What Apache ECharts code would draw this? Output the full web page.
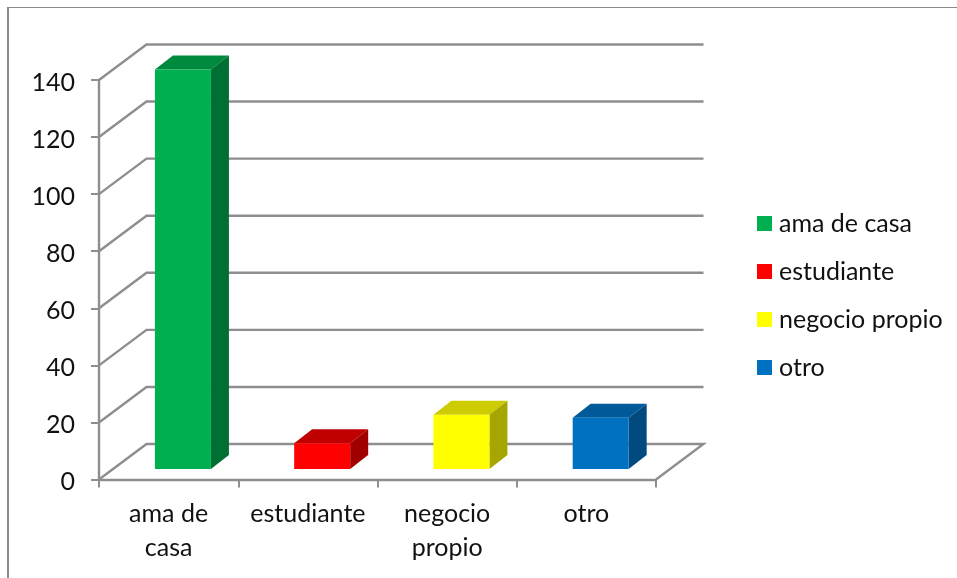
<!DOCTYPE html>
<html><head><meta charset="utf-8">
<style>html,body{margin:0;padding:0;background:#fff}#c{width:957px;height:578px}</style>
<script src="https://cdn.jsdelivr.net/npm/echarts@6/dist/echarts.min.js"></script>
</head><body><div id="c"></div>
<script>
const categories = ['ama de\ncasa', 'estudiante', 'negocio\npropio', 'otro'];
const seriesNames = ['ama de casa', 'estudiante', 'negocio propio', 'otro'];
const values = [140, 9, 19, 18];
const yTicks = [0, 20, 40, 60, 80, 100, 120, 140];
const frontColors = ['#00B050', '#FF0000', '#FFFF00', '#0070C0'];
const topColors = ['#008A3E', '#C00000', '#CCCC00', '#005A9A'];
const sideColors = ['#006F33', '#A00000', '#A6A600', '#004A80'];

const FONT = 'Lato';
const FONT_SIZE = 25;
const GRAY = '#8E8E8E';
const DEPTH = [47.5, -35.5];
const BAR_W = 56, BAR_DX = 14.3, BAR_DY = -10.5, SIDE = [18, -14];

const chart = echarts.init(document.getElementById('c'), null, {renderer: 'canvas'});

function renderWall(params, api) {
  const v = api.value(1);
  const cs = params.coordSys;
  const y = api.coord([0, v])[1];
  const x0 = cs.x, x1 = cs.x + cs.width;
  const pts = [[x0, y], [x0 + DEPTH[0], y + DEPTH[1]], [x1 + DEPTH[0], y + DEPTH[1]]];
  if (v === 0) pts.push([x1, y]);
  return {
    type: 'polyline',
    shape: {points: pts},
    style: {fill: null, stroke: GRAY, lineWidth: 2.4},
    silent: true
  };
}

function makeBar(idx) {
  return function (params, api) {
    const top = api.coord([api.value(0), api.value(1)]);
    const base = api.coord([api.value(0), 0]);
    const l = top[0] + BAR_DX - BAR_W / 2, r = l + BAR_W;
    const t = top[1] + BAR_DY, b = base[1] + BAR_DY;
    const sx = SIDE[0], sy = SIDE[1];
    return {
      type: 'group',
      children: [
        {type: 'polygon', shape: {points: [[l, t], [r, t], [r + sx, t + sy], [l + sx, t + sy]]},
          style: {fill: topColors[idx]}},
        {type: 'polygon', shape: {points: [[r, t], [r + sx, t + sy], [r + sx, b + sy], [r, b]]},
          style: {fill: sideColors[idx]}},
        {type: 'rect', shape: {x: l, y: t, width: BAR_W, height: b - t},
          style: {fill: frontColors[idx]}}
      ]
    };
  };
}

const series = [{
  type: 'custom',
  name: 'wall',
  silent: true,
  clip: false,
  z: 1,
  encode: {x: 0, y: 1},
  renderItem: renderWall,
  data: yTicks.map(v => [0, v])
}];
seriesNames.forEach((n, i) => {
  series.push({
    type: 'custom',
    name: n,
    clip: false,
    z: 3,
    itemStyle: {color: frontColors[i]},
    encode: {x: 0, y: 1},
    renderItem: makeBar(i),
    data: [[i, values[i]]]
  });
});

chart.setOption({
  backgroundColor: '#fff',
  animation: false,
  textStyle: {fontFamily: FONT},
  grid: {left: 99, right: 301, top: 80, bottom: 98.5, containLabel: false},
  legend: {
    orient: 'vertical',
    left: 752,
    top: 206,
    icon: 'rect',
    itemWidth: 15,
    itemHeight: 15,
    itemGap: 23,
    selectedMode: false,
    data: seriesNames,
    textStyle: {fontFamily: FONT, fontSize: FONT_SIZE, color: '#111', padding: [0, 0, 0, 2]}
  },
  xAxis: {
    type: 'category',
    data: categories,
    axisLine: {show: true, lineStyle: {color: GRAY, width: 2.4}},
    axisTick: {show: true, length: 8, lineStyle: {color: GRAY, width: 2}},
    axisLabel: {fontFamily: FONT, fontSize: FONT_SIZE, color: '#111', lineHeight: 34, margin: 17, interval: 0},
    splitLine: {show: false}
  },
  yAxis: {
    type: 'value',
    min: 0, max: 140, interval: 20,
    axisLine: {show: true, lineStyle: {color: GRAY, width: 2.4}},
    axisTick: {show: true, length: 8, lineStyle: {color: GRAY, width: 2}},
    axisLabel: {fontFamily: FONT, fontSize: FONT_SIZE, color: '#111', margin: 24, verticalAlign: 'top', lineHeight: 5},
    splitLine: {show: false}
  },
  graphic: [
    {type: 'line', silent: true, shape: {x1: 7.5, y1: 7.5, x2: 957, y2: 7.5}, style: {stroke: '#8A8A8A', lineWidth: 1}},
    {type: 'line', silent: true, shape: {x1: 8, y1: 7, x2: 8, y2: 578}, style: {stroke: '#8A8A8A', lineWidth: 2}}
  ],
  series: series
});
</script></body></html>
